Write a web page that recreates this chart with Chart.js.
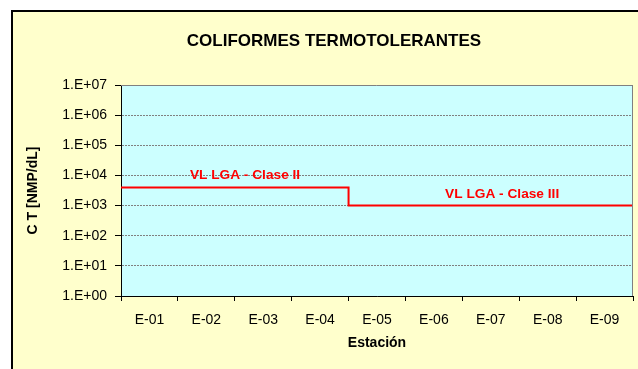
<!DOCTYPE html>
<html>
<head>
<meta charset="utf-8">
<script src="https://cdn.jsdelivr.net/npm/chart.js@4.4.1/dist/chart.umd.min.js"></script>
<style>
  body { margin: 0; background: #fff; }
  #wrap { width: 638px; height: 369px; }
</style>
</head>
<body>
<div id="wrap"><canvas id="coliChart" width="638" height="369"></canvas></div>
<script>
// estaciones de muestreo
var stations = ['E-01', 'E-02', 'E-03', 'E-04', 'E-05', 'E-06', 'E-07', 'E-08', 'E-09'];
// valor limite LGA por estacion (NMP/dL)
var limitValues = [4000, 4000, 4000, 4000, 1000, 1000, 1000, 1000, 1000];
var yTickValues = [1, 10, 100, 1000, 10000, 100000, 1000000, 10000000];
var yTickLabels = ['1.E+00', '1.E+01', '1.E+02', '1.E+03', '1.E+04', '1.E+05', '1.E+06', '1.E+07'];
var classLabels = ['VL LGA - Clase II', 'VL LGA - Clase III'];
var chartTitle = 'COLIFORMES TERMOTOLERANTES';

var FONT = "'Liberation Sans', Arial, sans-serif";

// step line spans each station's full category width
var limitPoints = [];
limitValues.forEach(function (v, i) {
  limitPoints.push({ x: i + 0.5, y: v });
  limitPoints.push({ x: i + 1.5, y: v });
});

var backgroundPlugin = {
  id: 'backgrounds',
  beforeDraw: function (chart) {
    var ctx = chart.ctx, a = chart.chartArea;
    ctx.save();
    ctx.fillStyle = '#ffffff';
    ctx.fillRect(0, 0, chart.width, chart.height);
    ctx.fillStyle = '#ffffcc';
    ctx.fillRect(12, 11, chart.width, chart.height);
    ctx.strokeStyle = '#000000';
    ctx.lineWidth = 2;
    ctx.strokeRect(12, 11, chart.width + 10, chart.height + 10);
    ctx.fillStyle = '#ccffff';
    ctx.fillRect(a.left, a.top, a.right - a.left, a.bottom - a.top);

    // titulo (centrado sobre el marco completo del grafico)
    ctx.fillStyle = '#000';
    ctx.font = 'bold 17px ' + FONT;
    ctx.textAlign = 'center';
    ctx.textBaseline = 'middle';
    ctx.fillText(chartTitle, 334, 41);
    ctx.restore();
  },
  afterDatasetsDraw: function (chart) {
    var ctx = chart.ctx, a = chart.chartArea;
    var xs = chart.scales.xl, ys = chart.scales.y;
    ctx.save();
    ctx.strokeStyle = '#808080';
    ctx.lineWidth = 1;
    ctx.beginPath();
    ctx.moveTo(a.left, a.top + 0.5);
    ctx.lineTo(a.right - 0.5, a.top + 0.5);
    ctx.lineTo(a.right - 0.5, a.bottom);
    ctx.stroke();

    // etiquetas de los limites
    ctx.fillStyle = '#ff0000';
    ctx.font = 'bold 13.7px ' + FONT;
    ctx.textAlign = 'center';
    ctx.textBaseline = 'middle';
    ctx.fillText(classLabels[0], xs.getPixelForValue(2.68), ys.getPixelForValue(10500));
    ctx.fillText(classLabels[1], xs.getPixelForValue(7.2), ys.getPixelForValue(2400));
    ctx.restore();
  }
};

var ctx = document.getElementById('coliChart').getContext('2d');
var chart = new Chart(ctx, {
  type: 'line',
  data: {
    labels: stations,
    datasets: [{
      label: 'VL LGA',
      data: limitPoints,
      xAxisID: 'xl',
      yAxisID: 'y',
      borderColor: '#ff0000',
      borderWidth: 2,
      pointRadius: 0,
      tension: 0,
      fill: false
    }]
  },
  options: {
    responsive: false,
    animation: false,
    layout: { padding: { left: 15, right: 5, top: 85, bottom: 0 } },
    plugins: {
      legend: { display: false },
      tooltip: { enabled: false },
      title: { display: false }
    },
    scales: {
      x: {
        type: 'category',
        offset: true,
        grid: { offset: true, drawOnChartArea: false, color: '#000', tickLength: 5 },
        border: { color: '#000', width: 1 },
        ticks: { color: '#000', font: { family: FONT, size: 14 }, padding: 11, maxRotation: 0 },
        title: {
          display: true,
          text: 'Estación',
          color: '#000',
          font: { family: FONT, size: 14, weight: 'bold' },
          padding: { top: 0, bottom: 17 }
        },
        afterFit: function (scale) { scale.height = 73; }
      },
      xl: {
        type: 'linear',
        display: false,
        min: 0.5,
        max: stations.length + 0.5
      },
      y: {
        type: 'logarithmic',
        min: yTickValues[0],
        max: yTickValues[yTickValues.length - 1],
        afterBuildTicks: function (scale) {
          scale.ticks = yTickValues.map(function (v) { return { value: v }; });
        },
        grid: { color: '#808080', tickColor: '#000', tickLength: 6, tickBorderDash: [] },
        border: { color: '#000', width: 1, dash: [2, 1] },
        ticks: {
          color: '#000',
          font: { family: FONT, size: 14 },
          padding: 8,
          callback: function (value) {
            var i = yTickValues.indexOf(value);
            return i >= 0 ? yTickLabels[i] : '';
          }
        },
        title: {
          display: true,
          text: 'C T [NMP/dL]',
          color: '#000',
          font: { family: FONT, size: 14, weight: 'bold' },
          padding: { top: 10, bottom: 0 }
        },
        afterFit: function (scale) { scale.width = 106; }
      }
    }
  },
  plugins: [backgroundPlugin]
});
</script>
</body>
</html>
